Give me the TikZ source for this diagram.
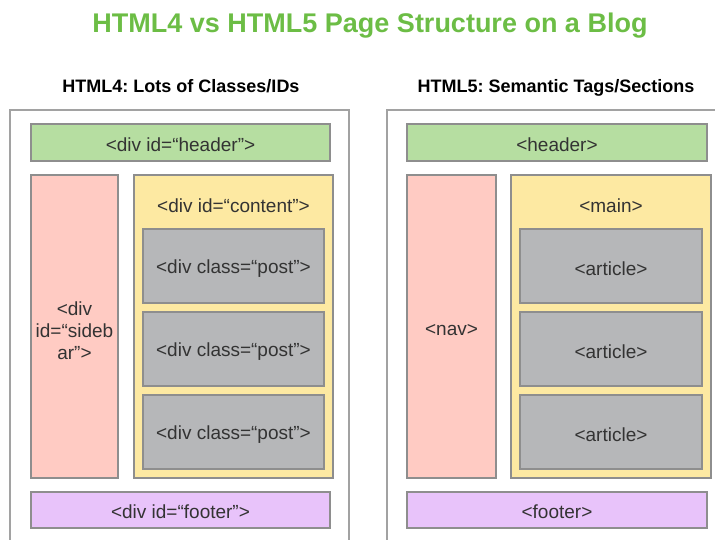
\documentclass[tikz,border=0pt]{standalone}
\usepackage{fontspec}
\setmainfont{Liberation Sans}
\frenchspacing
\definecolor{titlegreen}{HTML}{6CBD45}
\definecolor{hdrgreen}{HTML}{B6DEA1}
\definecolor{sidepink}{HTML}{FFCBC3}
\definecolor{mainyellow}{HTML}{FDE9A2}
\definecolor{postgray}{HTML}{B6B7B9}
\definecolor{footpurple}{HTML}{E8C3FA}
\definecolor{edgegray}{HTML}{8E8E8E}
\definecolor{outergray}{HTML}{A2A2A2}
\definecolor{txtgray}{HTML}{333333}
\begin{document}
\begin{tikzpicture}[x=1pt,y=-1pt,
  blk/.style={draw=edgegray,line width=1.5pt},
  outerbox/.style={draw=outergray,line width=1.2pt},
  lbl/.style={text=txtgray,font=\frenchspacing\fontsize{19}{22}\selectfont,align=center,inner sep=0pt},
  ttl/.style={text=titlegreen,font=\bfseries\fontsize{27}{30}\selectfont,inner sep=0pt,anchor=base},
  sub/.style={text=black,font=\frenchspacing\bfseries\fontsize{18}{20}\selectfont,inner sep=0pt,anchor=base}]
\useasboundingbox (0,0) rectangle (715,540);
\node[ttl] (title) at (370,33) {HTML4 vs HTML5 Page Structure on a Blog};
\node[sub] (sub4) at (181,93) {HTML4: Lots of Classes/IDs};
\node[sub] (sub5) at (556,93) {HTML5: Semantic Tags/Sections};
% outer boxes
\draw[outerbox] (10,560) -- (10,110) -- (349,110) -- (349,560);
\draw[outerbox] (387,560) -- (387,110) -- (730,110);
% HTML4
\draw[blk,fill=hdrgreen] (31,124) rectangle (330,161);
\node[lbl] (h4) at (180.5,144.5) {<div id=“header”>};
\draw[blk,fill=sidepink] (31,175) rectangle (118,478);
\node[lbl] (s4) at (74.5,331) {<div\\id=“sideb\\ar”>};
\draw[blk,fill=mainyellow] (134,175) rectangle (333,478);
\node[lbl] (c4) at (233.5,206) {<div id=“content”>};
\draw[blk,fill=postgray] (143,229) rectangle (324,303);
\node[lbl] (p41) at (233.5,268.5) {<div class=“post”>};
\draw[blk,fill=postgray] (143,312) rectangle (324,386);
\node[lbl] (p42) at (233.5,351.5) {<div class=“post”>};
\draw[blk,fill=postgray] (143,395) rectangle (324,469);
\node[lbl] (p43) at (233.5,434.5) {<div class=“post”>};
\draw[blk,fill=footpurple] (31,492) rectangle (330,528);
\node[lbl] (f4) at (180.5,512) {<div id=“footer”>};
% HTML5
\draw[blk,fill=hdrgreen] (407,124) rectangle (707,161);
\node[lbl] (h5) at (557,144.5) {<header>};
\draw[blk,fill=sidepink] (407,175) rectangle (496,478);
\node[lbl] (n5) at (451.5,330) {<nav>};
\draw[blk,fill=mainyellow] (511,175) rectangle (711,478);
\node[lbl] (m5) at (611,206) {<main>};
\draw[blk,fill=postgray] (520,229) rectangle (702,303);
\node[lbl] (a51) at (611,268.5) {<article>};
\draw[blk,fill=postgray] (520,312) rectangle (702,386);
\node[lbl] (a52) at (611,351.5) {<article>};
\draw[blk,fill=postgray] (520,395) rectangle (702,469);
\node[lbl] (a53) at (611,434.5) {<article>};
\draw[blk,fill=footpurple] (407,492) rectangle (707,528);
\node[lbl] (f5) at (557,512) {<footer>};
\end{tikzpicture}
\end{document}
